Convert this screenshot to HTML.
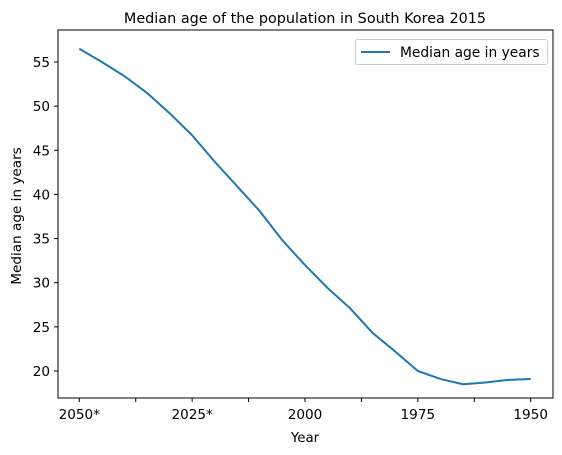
<!DOCTYPE html>
<html><head><meta charset="utf-8"><style>
html,body{margin:0;padding:0;background:#fff;}
svg{display:block;font-family:"DejaVu Sans","Liberation Sans",sans-serif;}
</style></head><body>
<svg id="chart" width="562" height="455" viewBox="0 0 562 455">
<text x="305" y="23" text-anchor="middle" font-size="14.4" fill="#000">Median age of the population in South Korea 2015</text>
<g id="axes"></g>
<rect x="58" y="30" width="495" height="368" fill="none" stroke="#000" stroke-width="1"/>
<text x="305" y="442" text-anchor="middle" font-size="13.4">Year</text>
<text transform="translate(21,216) rotate(-90)" text-anchor="middle" font-size="13.6">Median age in years</text>
<g>
<rect x="355.5" y="39.5" width="192" height="25" rx="2" fill="#fff" stroke="#ccc"/>
<line x1="361" y1="52" x2="390" y2="52" stroke="#1f77b4" stroke-width="2"/>
<text x="400" y="57" font-size="13.8">Median age in years</text>
</g>
</svg>
<script>
const categories = ["2050*","2045*","2040*","2035*","2030*","2025*","2020*","2015*","2010","2005","2000","1995","1990","1985","1980","1975","1970","1965","1960","1955","1950"];
const values = [56.5,55.0,53.4,51.5,49.2,46.7,43.7,40.9,38.1,34.8,32.0,29.4,27.1,24.3,22.2,20.0,19.1,18.5,18.7,19.0,19.1];
const yTicks = [20,25,30,35,40,45,50,55];
const xLabelIdx = [0,5,10,15,20];
const NS="http://www.w3.org/2000/svg";
const g=document.getElementById('axes');
const x=i=>79.3+i*(530.7-79.3)/(categories.length-1);
const y=v=>371-(v-20)*(309/35);
function mk(t,a){const e=document.createElementNS(NS,t);for(const k in a)e.setAttribute(k,a[k]);g.appendChild(e);return e;}
yTicks.forEach(v=>{
  const t=mk('line',{x1:54,x2:58,y1:y(v),y2:y(v),stroke:'#000'});
  
  
  const l=mk('text',{x:50,y:y(v)+5,'text-anchor':'end','font-size':13.6});
  l.textContent=v;
  
  
});
for(let i=0;i<categories.length;i+=2.5){
  const xi=79.3+i*(530.7-79.3)/(categories.length-1);
  const t=mk('line',{x1:xi,x2:xi,y1:398,y2:402,stroke:'#000'});
  
  
}
xLabelIdx.forEach(i=>{
  const l=mk('text',{x:x(i),y:419,'text-anchor':'middle','font-size':13.6});
  l.textContent=categories[i];
  
  
});
const p=mk('polyline',{points:values.map((v,i)=>x(i)+','+y(v)).join(' '),fill:'none',stroke:'#1f77b4','stroke-width':2,'stroke-linejoin':'round'});


</script>
</body></html>
